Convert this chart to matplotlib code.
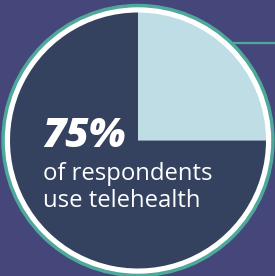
import matplotlib.pyplot as plt
from matplotlib.patches import Circle

W, H = 275, 276
DPI = 100

labels = ['Do not use telehealth', 'Use telehealth']
shares = [25, 75]
slice_colors = ['#bedde4', '#34415f']

headline = '75%'
caption = ['of respondents', 'use telehealth']

BG = '#45477a'
TEAL = '#4fa99a'

fig = plt.figure(figsize=(W / DPI, H / DPI), dpi=DPI)
fig.patch.set_facecolor(BG)
ax = fig.add_axes([0, 0, 1, 1])

cx, cy = 138, H - 140.5

# accent line to the right
ax.plot([232, W], [H - 43, H - 43], color=TEAL, lw=1.6, zorder=1)

# outer rings
ax.add_patch(Circle((cx, cy), 136, color=TEAL, zorder=2))
ax.add_patch(Circle((cx, cy), 132.5, color='white', zorder=3))

wedges, _ = ax.pie(shares, colors=slice_colors, startangle=0, counterclock=True,
                   center=(cx, cy), radius=128, frame=True)
for w in wedges:
    w.set_zorder(4)
ax.set_xlim(0, W)
ax.set_ylim(0, H)
ax.set_aspect('equal')
ax.axis('off')

ax.text(42, H - 147, headline, color='white', fontsize=29, fontweight='heavy',
        fontstyle='italic', family='Open Sans', ha='left', va='baseline', zorder=5)
ax.text(43, H - 180, caption[0], color='white', fontsize=17.2, family='Open Sans',
        ha='left', va='baseline', zorder=5)
ax.text(43, H - 207, caption[1], color='white', fontsize=17.2, family='Open Sans',
        ha='left', va='baseline', zorder=5)

plt.savefig('out.png', dpi=DPI, facecolor=BG)
plt.close()
